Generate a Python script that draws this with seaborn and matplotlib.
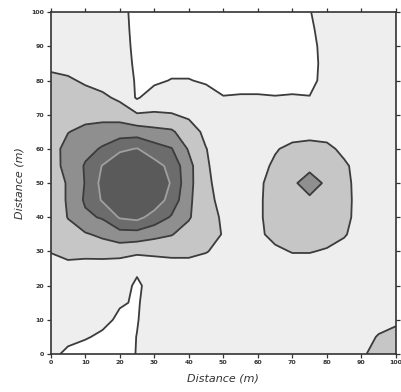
import numpy as np
import matplotlib
matplotlib.use("Agg")
import matplotlib.pyplot as plt
import seaborn as sns

# grid positions (m)
dist_x = [0, 5, 10, 15, 20, 25, 30, 35, 40, 45, 50, 55, 60, 65, 70, 75, 80, 85, 90, 95, 100]
dist_y = [100, 95, 90, 85, 80, 75, 70, 65, 60, 55, 50, 45, 40, 35, 30, 25, 20, 15, 10, 5, 0]

# values, one row per y (top row = 100 m)
row_100 = [1.5, 1.5, 1.5, 1.5, 1.5, 0.5, 0.5, 0.5, 0.5, 0.5, 0.5, 0.5, 0.5, 0.5, 0.5, 0.95, 1.5, 1.5, 1.5, 1.5, 1.5]
row_95 = [1.5, 1.5, 1.5, 1.5, 1.5, 0.6, 0.5, 0.5, 0.5, 0.5, 0.5, 0.5, 0.5, 0.5, 0.5, 0.8, 1.5, 1.5, 1.5, 1.5, 1.5]
row_90 = [1.5, 1.5, 1.5, 1.5, 1.5, 0.7, 0.5, 0.5, 0.5, 0.5, 0.5, 0.5, 0.5, 0.5, 0.5, 0.6, 1.5, 1.5, 1.5, 1.5, 1.5]
row_85 = [1.7, 1.6, 1.5, 1.5, 1.5, 0.8, 0.6, 0.6, 0.6, 0.6, 0.6, 0.6, 0.6, 0.6, 0.6, 0.5, 1.5, 1.5, 1.5, 1.5, 1.5]
row_80 = [2.3, 2.15, 1.85, 1.6, 1.5, 0.9, 0.8, 1.05, 1.05, 0.85, 0.6, 0.6, 0.6, 0.6, 0.6, 0.6, 1.5, 1.5, 1.5, 1.5, 1.5]
row_75 = [2.5, 2.5, 2.4, 2.2, 1.8, 0.9, 1.5, 1.5, 1.5, 1.5, 1.05, 1.1, 1.1, 1.05, 1.1, 1.05, 1.5, 1.5, 1.5, 1.5, 1.5]
row_70 = [2.6, 2.7, 2.8, 2.6, 2.6, 2.1, 2.1, 2.05, 1.85, 1.6, 1.5, 1.5, 1.5, 1.5, 1.5, 1.5, 1.5, 1.5, 1.5, 1.5, 1.5]
row_65 = [2.7, 2.98, 3.15, 3.5, 3.5, 3.5, 3.3, 3.15, 2.4, 1.8, 1.5, 1.5, 1.5, 1.5, 1.5, 1.6, 1.5, 1.5, 1.5, 1.5, 1.5]
row_60 = [2.75, 3.2, 3.7, 4.1, 4.8, 5.05, 4.4, 4.05, 2.9, 2.02, 1.6, 1.5, 1.5, 1.9, 2.3, 2.4, 2.3, 1.7, 1.5, 1.5, 1.5]
row_55 = [2.8, 3.15, 4.1, 5.05, 5.8, 6.0, 5.4, 4.7, 3.3, 2.1, 1.6, 1.5, 1.6, 2.2, 2.6, 2.7, 2.6, 2.2, 1.5, 1.5, 1.5]
row_50 = [2.7, 3.05, 4.05, 5.3, 6.2, 6.4, 5.9, 4.9, 3.3, 2.15, 1.7, 1.5, 1.8, 2.4, 2.8, 3.5, 2.8, 2.35, 1.5, 1.5, 1.5]
row_45 = [2.7, 3.05, 4.15, 5.1, 5.9, 6.0, 5.6, 4.6, 3.2, 2.2, 1.8, 1.5, 1.8, 2.5, 2.7, 2.8, 2.7, 2.4, 1.5, 1.5, 1.5]
row_40 = [2.6, 3.02, 3.8, 4.1, 5.1, 5.3, 4.6, 3.9, 3.1, 2.3, 1.9, 1.5, 1.8, 2.5, 2.6, 2.6, 2.6, 2.35, 1.5, 1.5, 1.5]
row_35 = [2.4, 2.8, 2.9, 3.2, 3.6, 3.6, 3.3, 3.05, 2.6, 2.35, 1.95, 1.5, 1.8, 2.3, 2.4, 2.4, 2.4, 2.1, 1.5, 1.5, 1.5]
row_30 = [2.05, 2.3, 2.3, 2.4, 2.4, 2.2, 2.2, 2.3, 2.3, 2.05, 1.7, 1.5, 1.5, 1.8, 2.05, 2.05, 1.9, 1.6, 1.5, 1.5, 1.5]
row_25 = [1.5, 1.7, 1.6, 1.5, 1.4, 1.2, 1.5, 1.5, 1.5, 1.5, 1.5, 1.5, 1.5, 1.5, 1.5, 1.5, 1.5, 1.5, 1.5, 1.5, 1.5]
row_20 = [1.5, 1.5, 1.5, 1.5, 1.5, 0.8, 1.5, 1.5, 1.5, 1.5, 1.5, 1.5, 1.5, 1.5, 1.5, 1.5, 1.5, 1.5, 1.5, 1.5, 1.5]
row_15 = [1.5, 1.5, 1.5, 1.5, 1.1, 0.9, 1.5, 1.5, 1.5, 1.5, 1.5, 1.5, 1.5, 1.5, 1.5, 1.5, 1.5, 1.5, 1.5, 1.5, 1.5]
row_10 = [1.5, 1.5, 1.5, 1.3, 0.8, 0.95, 1.5, 1.5, 1.5, 1.5, 1.5, 1.5, 1.5, 1.5, 1.5, 1.5, 1.5, 1.5, 1.5, 1.5, 1.7]
row_5 = [1.5, 1.5, 1.1, 0.8, 0.6, 1.02, 1.5, 1.5, 1.5, 1.5, 1.5, 1.5, 1.5, 1.5, 1.5, 1.5, 1.5, 1.5, 1.5, 2.1, 2.5]
row_0 = [1.5, 0.6, 0.5, 0.5, 0.5, 1.05, 1.5, 1.5, 1.5, 1.5, 1.5, 1.5, 1.5, 1.5, 1.5, 1.5, 1.5, 1.5, 1.7, 2.7, 2.8]

levels = [0, 1, 2, 3, 4, 5, 7]
band_colors = ["#ffffff", "#eeeeee", "#c6c6c6", "#8f8f8f", "#6c6c6c", "#5a5a5a"]
line_colors = ["#3c3c3c", "#3c3c3c", "#3c3c3c", "#3c3c3c", "#a0a0a0"]
ticks = [0, 10, 20, 30, 40, 50, 60, 70, 80, 90, 100]

grid = np.array([row_100, row_95, row_90, row_85, row_80, row_75, row_70,
                 row_65, row_60, row_55, row_50, row_45, row_40, row_35,
                 row_30, row_25, row_20, row_15, row_10, row_5, row_0])

sns.set_style("ticks")
plt.rcParams['font.family'] = ['DejaVu Sans']

fig = plt.figure(figsize=(4.01, 3.92), dpi=100)
ax = fig.add_axes([0.1264, 0.097, 0.861, 0.872])

ax.contourf(dist_x, dist_y, grid, levels=levels, colors=band_colors)
ax.contour(dist_x, dist_y, grid, levels=levels[1:-1], colors=line_colors, linewidths=1.3)

ax.set_xlim(0, 100)
ax.set_ylim(0, 100)
ax.set_xticks(ticks)
ax.set_yticks(ticks)
ax.tick_params(direction='out', length=3, width=0.9, labelsize=4.5, pad=1.5,
               top=True, right=True, colors='#333333')
for lab in ax.get_xticklabels() + ax.get_yticklabels():
    lab.set_fontweight('bold')
for sp in ax.spines.values():
    sp.set_visible(True)
    sp.set_linewidth(1.2)
    sp.set_color('#333333')

ax.set_xlabel('Distance (m)', fontsize=8, style='italic', color='#333333', labelpad=6)
ax.set_ylabel('Distance (m)', fontsize=8, style='italic', color='#333333', labelpad=5)

fig.savefig('out.png', dpi=100)
